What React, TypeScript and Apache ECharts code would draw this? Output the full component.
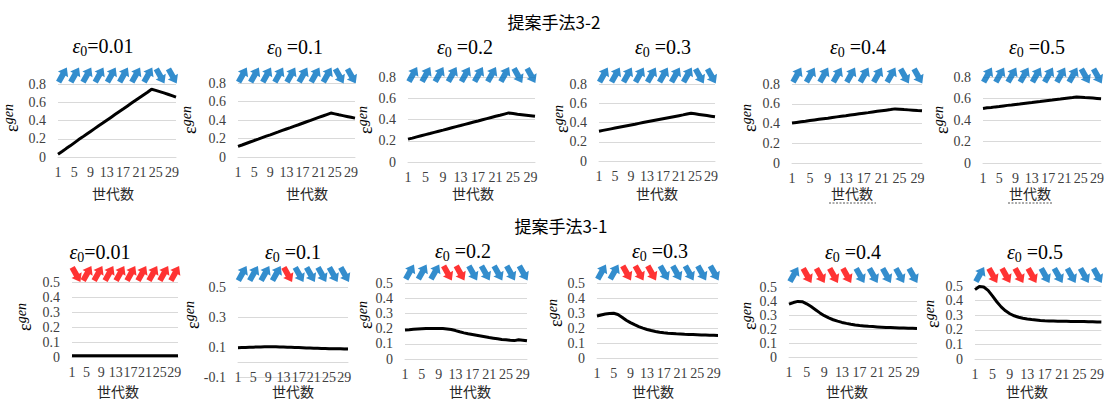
import React, { useEffect, useRef } from "react";
import * as echarts from "echarts";

// ---- data -------------------------------------------------------------

const GENERATIONS = [
  "1", "2", "3", "4", "5", "6", "7", "8", "9", "10",
  "11", "12", "13", "14", "15", "16", "17", "18", "19", "20",
  "21", "22", "23", "24", "25", "26", "27", "28", "29", "30",
];

// one arrow per block of three generations, drawn at the block's middle
const ARROW_GENERATIONS = ["2", "5", "8", "11", "14", "17", "20", "23", "26", "29"];

const EPS0_VALUES = ["0.01", "0.1", "0.2", "0.3", "0.4", "0.5"];

// 提案手法3-2
const M32_EPS_001 = [
  0.03, 0.06, 0.092, 0.122, 0.155, 0.188, 0.218, 0.249, 0.28, 0.311,
  0.342, 0.372, 0.403, 0.434, 0.465, 0.496, 0.526, 0.557, 0.588, 0.619,
  0.65, 0.68, 0.71, 0.742, 0.73, 0.716, 0.702, 0.688, 0.672, 0.656,
];
const M32_EPS_01 = [
  0.115, 0.13, 0.146, 0.162, 0.178, 0.193, 0.209, 0.225, 0.24, 0.256,
  0.271, 0.287, 0.303, 0.318, 0.334, 0.349, 0.365, 0.381, 0.396, 0.412,
  0.428, 0.443, 0.459, 0.475, 0.466, 0.456, 0.447, 0.438, 0.429, 0.42,
];
const M32_EPS_02 = [
  0.215, 0.225, 0.236, 0.247, 0.258, 0.268, 0.279, 0.29, 0.3, 0.311,
  0.322, 0.333, 0.343, 0.354, 0.365, 0.376, 0.386, 0.397, 0.408, 0.419,
  0.43, 0.44, 0.451, 0.462, 0.456, 0.45, 0.445, 0.44, 0.435, 0.43,
];
const M32_EPS_03 = [
  0.31, 0.318, 0.326, 0.334, 0.342, 0.35, 0.358, 0.366, 0.374, 0.382,
  0.391, 0.399, 0.407, 0.415, 0.423, 0.431, 0.439, 0.447, 0.455, 0.463,
  0.471, 0.479, 0.488, 0.496, 0.49, 0.484, 0.478, 0.472, 0.466, 0.46,
];
const M32_EPS_04 = [
  0.405, 0.411, 0.417, 0.423, 0.43, 0.436, 0.442, 0.448, 0.454, 0.461,
  0.467, 0.473, 0.479, 0.486, 0.492, 0.498, 0.504, 0.51, 0.517, 0.523,
  0.529, 0.535, 0.541, 0.548, 0.545, 0.541, 0.538, 0.535, 0.531, 0.528,
];
const M32_EPS_05 = [
  0.508, 0.513, 0.517, 0.522, 0.526, 0.531, 0.536, 0.54, 0.545, 0.549,
  0.554, 0.559, 0.563, 0.568, 0.572, 0.577, 0.582, 0.586, 0.591, 0.595,
  0.6, 0.605, 0.609, 0.614, 0.612, 0.609, 0.607, 0.604, 0.601, 0.598,
];

// 提案手法3-1
const M31_EPS_001 = [
  0.009, 0.009, 0.009, 0.009, 0.009, 0.009, 0.009, 0.009, 0.009, 0.009,
  0.009, 0.009, 0.009, 0.009, 0.009, 0.009, 0.009, 0.009, 0.009, 0.009,
  0.009, 0.009, 0.009, 0.009, 0.009, 0.009, 0.009, 0.009, 0.009, 0.009,
];
const M31_EPS_01 = [
  0.095, 0.096, 0.097, 0.098, 0.099, 0.1, 0.1, 0.101, 0.101, 0.101,
  0.101, 0.1, 0.1, 0.099, 0.098, 0.097, 0.096, 0.095, 0.094, 0.093,
  0.092, 0.091, 0.09, 0.09, 0.089, 0.089, 0.088, 0.088, 0.087, 0.086,
];
const M31_EPS_02 = [
  0.19, 0.192, 0.195, 0.197, 0.199, 0.2, 0.201, 0.201, 0.201, 0.2,
  0.198, 0.194, 0.187, 0.179, 0.172, 0.166, 0.161, 0.156, 0.151, 0.146,
  0.141, 0.137, 0.133, 0.129, 0.126, 0.123, 0.121, 0.126, 0.124, 0.12,
];
const M31_EPS_03 = [
  0.28, 0.287, 0.293, 0.297, 0.298, 0.29, 0.272, 0.252, 0.236, 0.222,
  0.209, 0.199, 0.19, 0.183, 0.177, 0.172, 0.168, 0.165, 0.163, 0.161,
  0.16, 0.158, 0.157, 0.156, 0.155, 0.154, 0.153, 0.152, 0.151, 0.15,
];
const M31_EPS_04 = [
  0.377, 0.389, 0.397, 0.395, 0.38, 0.36, 0.338, 0.315, 0.295, 0.279,
  0.266, 0.256, 0.247, 0.24, 0.234, 0.229, 0.225, 0.222, 0.219, 0.217,
  0.215, 0.213, 0.211, 0.21, 0.209, 0.208, 0.207, 0.206, 0.205, 0.204,
];
const M31_EPS_05 = [
  0.475, 0.497, 0.493, 0.47, 0.432, 0.392, 0.357, 0.33, 0.31, 0.296,
  0.286, 0.279, 0.274, 0.27, 0.267, 0.264, 0.262, 0.261, 0.26, 0.259,
  0.258, 0.258, 0.257, 0.257, 0.256, 0.256, 0.255, 0.255, 0.254, 0.253,
];

// arrow direction per block: U = rising, D = falling; colour: B = blue, R = red
const M32_ARROW_DIR = ["UUUUUUUUDD", "UUUUUUUUDD", "UUUUUUUUDD", "UUUUUUUUDD", "UUUUUUUUDD", "UUUUUUUUDD"];
const M32_ARROW_COLOR = ["BBBBBBBBBB", "BBBBBBBBBB", "BBBBBBBBBB", "BBBBBBBBBB", "BBBBBBBBBB", "BBBBBBBBBB"];
const M31_ARROW_DIR = ["DUUUUUUUUU", "UUUUDDDDDD", "UUUDDDDDDD", "UUDDDDDDDD", "UDDDDDDDDD", "UDDDDDDDDD"];
const M31_ARROW_COLOR = ["RRRRRRRRRR", "BBBBRBBBBB", "BBBRRBBBBB", "BBRRRBBBBB", "BRRRRBBBBB", "BRRRRBBBBB"];

// y-axis ranges: [min, max, interval]
const M32_Y_RANGE = [[0, 0.8, 0.2], [0, 0.8, 0.2], [0, 0.8, 0.2], [0, 0.8, 0.2], [0, 0.8, 0.2], [0, 0.8, 0.2]];
const M31_Y_RANGE = [[0, 0.5, 0.1], [-0.1, 0.5, 0.2], [0, 0.5, 0.1], [0, 0.5, 0.1], [0, 0.5, 0.1], [0, 0.5, 0.1]];

const M32_SERIES = [M32_EPS_001, M32_EPS_01, M32_EPS_02, M32_EPS_03, M32_EPS_04, M32_EPS_05];
const M31_SERIES = [M31_EPS_001, M31_EPS_01, M31_EPS_02, M31_EPS_03, M31_EPS_04, M31_EPS_05];

const TITLE_32 = "提案手法3-2";
const TITLE_31 = "提案手法3-1";
const X_NAME = "世代数";

// ---- layout & style ----------------------------------------------------

type Layout = {
  grid: [number, number, number, number]; // left, right, top, bottom of the plot
  title: [number, number];
  xName: [number, number];
  yName: [number, number];
  arrowDy: number;
  xAxisShift: number; // moves the category axis up to the zero line
  tight: boolean; // no space before "="
};

const LAYOUT_32: Layout[] = [
  { grid: [58, 176, 84, 157], title: [103, 46], xName: [113, 193], yName: [12, 118], arrowDy: -8.5, xAxisShift: 0, tight: true },
  { grid: [238, 355, 83, 157], title: [295, 47], xName: [307, 193], yName: [190, 120], arrowDy: -7.5, xAxisShift: 0, tight: false },
  { grid: [408, 535, 77, 162], title: [465, 47], xName: [473, 193], yName: [366, 120], arrowDy: -2, xAxisShift: 0, tight: false },
  { grid: [599, 715, 84, 161], title: [663, 47], xName: [657, 193], yName: [562, 119], arrowDy: -8.5, xAxisShift: 0, tight: false },
  { grid: [792, 922, 84, 163], title: [858, 47], xName: [852, 193], yName: [750, 118], arrowDy: -8.5, xAxisShift: 0, tight: false },
  { grid: [983, 1102, 77, 163], title: [1037, 47], xName: [1030, 193], yName: [942, 120], arrowDy: -1.5, xAxisShift: 0, tight: false },
];
const LAYOUT_31: Layout[] = [
  { grid: [72, 178, 282, 357], title: [100, 252], xName: [118, 391], yName: [25, 317], arrowDy: -8, xAxisShift: 0, tight: true },
  { grid: [238, 348, 287, 377], title: [293, 252], xName: [293, 391], yName: [193, 315], arrowDy: -13, xAxisShift: -15, tight: false },
  { grid: [405, 527, 283, 359], title: [463, 251], xName: [470, 391], yName: [366, 315], arrowDy: -10.5, xAxisShift: 0, tight: false },
  { grid: [597, 718, 283, 358], title: [660, 251], xName: [653, 391], yName: [556, 313], arrowDy: -10.5, xAxisShift: 0, tight: false },
  { grid: [789, 917, 287, 357], title: [853, 252], xName: [847, 391], yName: [750, 316], arrowDy: -12, xAxisShift: 0, tight: false },
  { grid: [975, 1102, 286, 359], title: [1035, 252], xName: [1027, 391], yName: [933, 314], arrowDy: -11, xAxisShift: 0, tight: false },
];

const BLUE = "#0070C0";
const RED = "#FF0000";
const GRID_GRAY = "#d9d9d9";
const LABEL_COLOR = "#404040";
const SERIF = "Liberation Serif";
const CJK = "Noto Sans CJK JP";

// chunky block arrows: rising (up-right) and falling (down-right)
const ARROW_UP =
  "path://M11.11 0.5 L12.39 10.42 L9.78 8.94 L5.22 16.98 L0 14.02 L4.56 5.98 L1.95 4.5 Z";
const ARROW_DOWN =
  "path://M11.11 16.98 L12.39 7.06 L9.78 8.54 L5.22 0.5 L0 3.46 L4.56 11.5 L1.95 12.98 Z";

const titleRich = {
  e: { fontFamily: SERIF, fontStyle: "italic", fontSize: 20, lineHeight: 24, fill: "#000" },
  s: { fontFamily: SERIF, fontSize: 14, lineHeight: 12, verticalAlign: "bottom", fill: "#000" },
  n: { fontFamily: SERIF, fontSize: 20, lineHeight: 24, fill: "#000" },
};

const yNameRich = {
  e: { fontFamily: SERIF, fontSize: 18, lineHeight: 22, fill: "#000" },
  s: { fontFamily: SERIF, fontStyle: "italic", fontSize: 14, lineHeight: 12, verticalAlign: "top", fill: "#000" },
};

function buildOption() {
  const grids: any[] = [];
  const xAxes: any[] = [];
  const yAxes: any[] = [];
  const series: any[] = [];
  const graphics: any[] = [];

  const rows = [
    { data: M32_SERIES, dirs: M32_ARROW_DIR, cols: M32_ARROW_COLOR, ranges: M32_Y_RANGE, layout: LAYOUT_32 },
    { data: M31_SERIES, dirs: M31_ARROW_DIR, cols: M31_ARROW_COLOR, ranges: M31_Y_RANGE, layout: LAYOUT_31 },
  ];

  rows.forEach((row) => {
    row.data.forEach((values, k) => {
      const idx = grids.length;
      const lay = row.layout[k];
      const [left, right, top, bottom] = lay.grid;
      const [yMin, yMax, yInterval] = row.ranges[k];

      grids.push({ left, top, width: right - left, height: bottom - top });

      xAxes.push({
        type: "category",
        gridIndex: idx,
        data: GENERATIONS,
        boundaryGap: false,
        offset: lay.xAxisShift,
        axisTick: { show: false },
        axisLine: { onZero: false, lineStyle: { color: GRID_GRAY, width: 1 } },
        axisLabel: { interval: 3, margin: 8, color: LABEL_COLOR, fontFamily: SERIF, fontSize: 14 },
        splitLine: { show: false },
      });

      yAxes.push({
        type: "value",
        gridIndex: idx,
        min: yMin,
        max: yMax,
        interval: yInterval,
        axisLine: { show: false },
        axisTick: { show: false },
        splitLine: { lineStyle: { color: GRID_GRAY, width: 1 } },
        axisLabel: { margin: 12, color: LABEL_COLOR, fontFamily: SERIF, fontSize: 14 },
      });

      series.push({
        type: "line",
        xAxisIndex: idx,
        yAxisIndex: idx,
        data: values,
        symbol: "none",
        silent: true,
        lineStyle: { color: "#000", width: 3 },
        z: 3,
      });

      const dirs = row.dirs[k];
      const cols = row.cols[k];
      series.push({
        type: "scatter",
        xAxisIndex: idx,
        yAxisIndex: idx,
        clip: false,
        silent: true,
        symbolSize: [12, 16],
        symbolOffset: [0, lay.arrowDy],
        data: ARROW_GENERATIONS.map((g, i) => ({
          value: [g, yMax],
          symbol: dirs[i] === "U" ? ARROW_UP : ARROW_DOWN,
          itemStyle: { color: cols[i] === "R" ? RED : BLUE },
        })),
        z: 4,
      });

      // panel title: ε₀ = value
      graphics.push({
        type: "text",
        x: lay.title[0],
        y: lay.title[1],
        style: {
          text: `{e|ε}{s|0}{n|${lay.tight ? "" : " "}=${EPS0_VALUES[k]}}`,
          rich: titleRich,
          align: "center",
          verticalAlign: "middle",
        },
      });

      // y-axis name ε^gen, rotated
      graphics.push({
        type: "text",
        x: lay.yName[0],
        y: lay.yName[1],
        rotation: Math.PI / 2,
        style: {
          text: "{e|ε}{s|gen}",
          rich: yNameRich,
          align: "center",
          verticalAlign: "middle",
        },
      });

      // x-axis name
      graphics.push({
        type: "text",
        x: lay.xName[0],
        y: lay.xName[1],
        style: {
          text: X_NAME,
          fontFamily: CJK,
          fontSize: 14,
          fill: "#262626",
          align: "center",
          verticalAlign: "middle",
        },
      });
    });
  });

  // group headings
  graphics.push({
    type: "text",
    x: 554,
    y: 21,
    style: { text: TITLE_32, fontFamily: CJK, fontSize: 17, fill: "#000", align: "center", verticalAlign: "middle" },
  });
  graphics.push({
    type: "text",
    x: 561,
    y: 225,
    style: { text: TITLE_31, fontFamily: CJK, fontSize: 17, fill: "#000", align: "center", verticalAlign: "middle" },
  });

  // dotted underlines beneath two of the axis names
  [[829, 876], [1008, 1052]].forEach(([x1, x2]) => {
    graphics.push({
      type: "line",
      shape: { x1, y1: 203, x2, y2: 203 },
      style: { stroke: "#555", lineWidth: 1, lineDash: [2, 1.5] },
    });
  });

  return {
    animation: false,
    backgroundColor: "#fff",
    grid: grids,
    xAxis: xAxes,
    yAxis: yAxes,
    series,
    graphic: graphics,
  };
}

export default function App() {
  const ref = useRef<HTMLDivElement>(null);
  useEffect(() => {
    const chart = echarts.init(ref.current!, null, { renderer: "svg" });
    chart.setOption(buildOption() as any);
    return () => chart.dispose();
  }, []);
  return (
    <div
      ref={ref}
      style={{ position: "fixed", left: 0, top: 0, width: 1107, height: 401, background: "#fff" }}
    />
  );
}
